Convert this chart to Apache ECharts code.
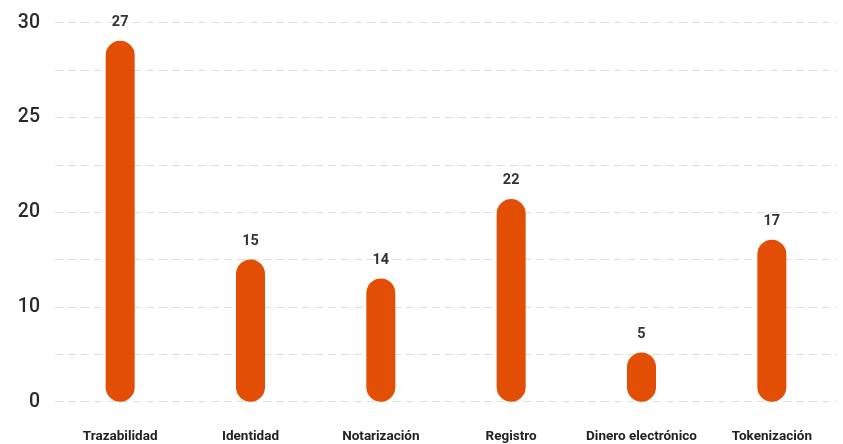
<!DOCTYPE html>
<html>
<head>
<meta charset="utf-8">
<script src="https://cdn.jsdelivr.net/npm/echarts@6/dist/echarts.min.js"></script>
<style>
html,body{margin:0;padding:0;background:#fff;}
#chart{width:843px;height:444px;}
</style>
</head>
<body>
<div id="chart"></div>
<script>
var categories = ['Trazabilidad', 'Identidad', 'Notarización', 'Registro', 'Dinero electrónico', 'Tokenización'];
// bar heights as drawn on the picture's (linear) axis
var barHeights = [38.1, 15.0, 13.0, 21.4, 5.2, 17.1];
// value labels printed above bars
var valueLabels = ['27', '15', '14', '22', '5', '17'];
// y tick labels as printed (at every other gridline)
var yTickLabels = ['0', '10', '20', '25', '30'];

var chart = echarts.init(document.getElementById('chart'), null, {renderer: 'canvas'});
chart.setOption({
  animation: false,
  backgroundColor: '#ffffff',
  grid: {left: 55, right: 6, top: 22.7, bottom: 42.3, containLabel: false},
  xAxis: {
    type: 'category',
    data: categories,
    axisLine: {show: false},
    axisTick: {show: false},
    axisLabel: {
      interval: 0,
      margin: 28,
      fontFamily: 'Roboto',
      fontSize: 13.5,
      fontWeight: 'bold',
      color: '#222'
    }
  },
  yAxis: {
    type: 'value',
    min: 0,
    max: 40,
    interval: 5,
    axisLine: {show: false},
    axisTick: {show: false},
    axisLabel: {
      margin: 15,
      fontFamily: 'Roboto',
      fontSize: 19.5,
      fontWeight: 500,
      color: '#2a2a2a',
      formatter: function (v) {
        if (v % 10 !== 0) return '';
        return yTickLabels[v / 10];
      }
    },
    splitLine: {
      show: true,
      lineStyle: {color: '#dedede', width: 1, type: [8, 5]}
    }
  },
  series: [{
    type: 'bar',
    data: barHeights,
    barWidth: 29,
    itemStyle: {color: '#E24E03', borderRadius: 14.5},
    label: {
      show: true,
      position: 'top',
      distance: 11,
      fontFamily: 'Roboto',
      fontSize: 14.5,
      fontWeight: 'bold',
      color: '#333',
      formatter: function (p) { return valueLabels[p.dataIndex]; }
    }
  }]
});
</script>
</body>
</html>
